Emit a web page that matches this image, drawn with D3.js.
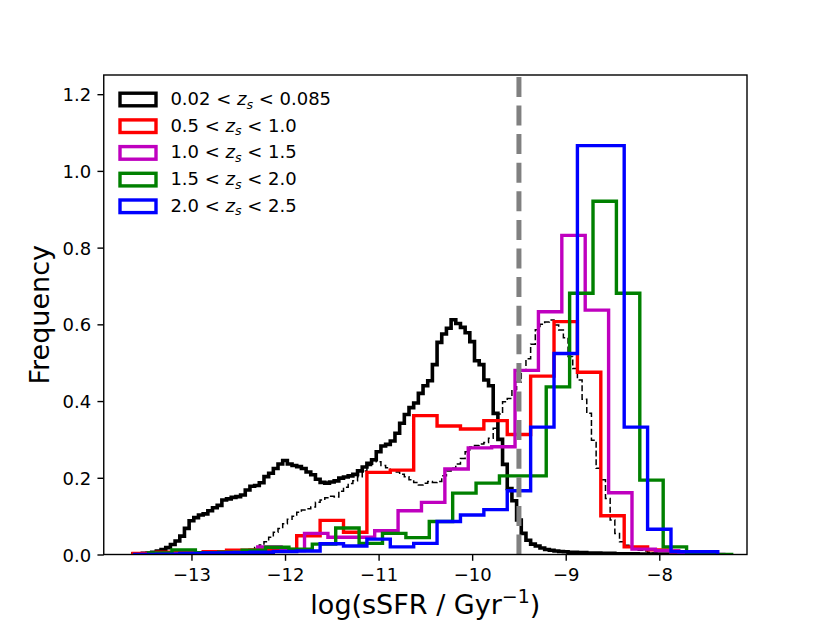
<!DOCTYPE html>
<html><head><meta charset="utf-8">
<script src="https://cdn.jsdelivr.net/npm/d3@7"></script>
<style>
body{margin:0;background:#fff}
text{font-family:"DejaVu Sans",sans-serif}
</style>
</head><body>
<svg id="c" width="830" height="623"></svg>
<script>
// ---------------- data ----------------
const xTicks = [-13, -12, -11, -10, -9, -8];
const yTicks = [0.0, 0.2, 0.4, 0.6, 0.8, 1.0, 1.2];
const xDomain = [-13.9375, -7.0625];
const yDomain = [0, 1.25];
const cutValue = -9.5;

// fine-binned local sample (0.02 < z < 0.085), bin width 0.05
const fineStart = -13.625;
const fineWidth = 0.05;
const localSolid = [
 0.002,0.002,0.003,0.004,0.006,0.009,0.013,0.018,0.026,0.035,
 0.048,0.068,0.088,0.096,0.103,0.106,0.114,0.122,0.128,0.142,
 0.145,0.149,0.151,0.155,0.168,0.178,0.180,0.187,0.203,0.212,
 0.224,0.236,0.245,0.236,0.232,0.229,0.224,0.215,0.208,0.196,
 0.188,0.186,0.189,0.192,0.199,0.202,0.205,0.209,0.218,0.228,
 0.238,0.247,0.268,0.283,0.287,0.296,0.316,0.342,0.365,0.383,
 0.395,0.420,0.440,0.453,0.495,0.553,0.575,0.590,0.612,0.602,
 0.592,0.578,0.555,0.505,0.495,0.455,0.440,0.368,0.300,0.235,
 0.172,0.140,0.090,0.055,0.037,0.027,0.022,0.017,0.013,0.011,
 0.009,0.008,0.007,0.006,0.006,0.005,0.005,0.004,0.004,0.004,
 0.003,0.003,0.003,0.002,0.002,0.002,0.002,0.002,0.001,0.001,
 0.001,0.001,0.001,0.001,0.001,0,0,0,0,0,
 0,0,0,0,0
];
const localDashed = [
 0,0,0,0,0,0,0,0,0,0,
 0,0,0,0,0,0,0,0,0,0,
 0,0,0.003,0.005,0.008,0.012,0.018,0.025,0.033,0.045,
 0.058,0.068,0.080,0.092,0.100,0.110,0.116,0.119,0.124,0.136,
 0.142,0.148,0.152,0.150,0.165,0.175,0.185,0.192,0.203,0.218,
 0.232,0.245,0.242,0.232,0.226,0.220,0.215,0.209,0.203,0.195,
 0.188,0.181,0.186,0.190,0.188,0.190,0.205,0.218,0.225,0.236,
 0.250,0.268,0.280,0.284,0.288,0.292,0.303,0.329,0.366,0.398,
 0.407,0.430,0.450,0.481,0.510,0.548,0.586,0.600,0.606,0.611,
 0.598,0.585,0.565,0.516,0.485,0.455,0.405,0.368,0.298,0.225,
 0.195,0.146,0.090,0.055,0.033,0.024,0.018,0.014,0.011,0.009,
 0.006,0.004,0.002,0,0,0,0,0,0,0,
 0,0,0,0,0
];

// coarse-binned high-z samples, bin width 0.25
const coarseWidth = 0.25;
const red = [0.003,0.006,0.005,0.007,0.011,0.012,0.013,0.049,0.089,0.058,
 0.214,0.220,0.362,0.335,0.327,0.349,0.313,0.465,0.607,0.475,
 0.101,0.020,0.012,0.004,0.0];
const magenta = [0.0,0.002,0.003,0.004,0.006,0.020,0.010,0.055,0.045,0.045,
 0.062,0.114,0.136,0.223,0.278,0.281,0.480,0.633,0.832,0.637,
 0.161,0.014,0.010,0.003,0.0];
const green = [0.004,0.012,0.005,0.006,0.011,0.019,0.014,0.027,0.069,0.029,
 0.055,0.044,0.086,0.160,0.186,0.205,0.205,0.437,0.681,0.921,
 0.681,0.194,0.020,0.0,0.0];
const blue = [0.0,0.001,0.003,0.004,0.005,0.006,0.008,0.009,0.028,0.022,
 0.040,0.020,0.029,0.086,0.103,0.117,0.166,0.332,0.524,1.066,
 1.066,0.332,0.066,0.007,0.007];
const coarseStarts = [-13.625, -13.5417, -13.4583, -13.625];
const coarseColors = ["#ff0000", "#bf00bf", "#008000", "#0000ff"];

const legendLow = ["0.02", "0.5", "1.0", "1.5", "2.0"];
const legendHigh = ["0.085", "1.0", "1.5", "2.0", "2.5"];
const legendColors = ["#000000", "#ff0000", "#bf00bf", "#008000", "#0000ff"];

// ---------------- layout ----------------
const L = 103.75, R = 747, T = 75, B = 554.5;
const svg = d3.select("#c");
const x = d3.scaleLinear().domain(xDomain).range([L, R]);
const y = d3.scaleLinear().domain(yDomain).range([B, T]);

svg.append("defs").append("clipPath").attr("id","clip")
  .append("rect").attr("x",L).attr("y",T).attr("width",R-L).attr("height",B-T);

const plot = svg.append("g").attr("clip-path","url(#clip)");

function stepPoints(vals, start, w){
  const pts = [[start, 0]];
  vals.forEach((v,i)=>{ pts.push([start+i*w, v]); pts.push([start+(i+1)*w, v]); });
  pts.push([start+vals.length*w, 0]);
  return pts;
}
const line = d3.line().x(d=>x(d[0])).y(d=>y(d[1]));

plot.append("path").attr("d", line(stepPoints(localSolid, fineStart, fineWidth)))
  .attr("fill","none").attr("stroke","#000").attr("stroke-width",3.6).attr("stroke-linejoin","miter");
plot.append("path").attr("d", line(stepPoints(localDashed, fineStart, fineWidth)))
  .attr("fill","none").attr("stroke","#000").attr("stroke-width",1.5).attr("stroke-dasharray","6,2.8");

[red, magenta, green, blue].forEach((vals,i)=>{
  plot.append("path").attr("d", line(stepPoints(vals, coarseStarts[i], coarseWidth)))
    .attr("fill","none").attr("stroke",coarseColors[i]).attr("stroke-width",3.4).attr("stroke-linejoin","miter");
});

plot.append("line").attr("x1",x(cutValue)).attr("x2",x(cutValue))
  .attr("y1",y(yDomain[0])).attr("y2",y(yDomain[1]))
  .attr("stroke","#808080").attr("stroke-width",5).attr("stroke-dasharray","20,8.6");

// axes
const xAxis = d3.axisBottom(x).tickValues(xTicks).tickSize(6.3).tickPadding(6.3).tickSizeOuter(0).tickFormat(d3.format("d"));
const yAxis = d3.axisLeft(y).tickValues(yTicks).tickSize(6.3).tickPadding(6.3).tickSizeOuter(0).tickFormat(d3.format(".1f"));
const gx = svg.append("g").attr("transform",`translate(0,${B})`).call(xAxis);
const gy = svg.append("g").attr("transform",`translate(${L},0)`).call(yAxis);
[gx,gy].forEach(g=>{
  g.select(".domain").remove();
  g.selectAll(".tick line").attr("stroke","#000").attr("stroke-width",1.4);
  g.selectAll(".tick text").attr("fill","#000").style("font-size","18px").style("font-family","DejaVu Sans");
});
gx.selectAll(".tick text").attr("dy",null).attr("y",6.3+6.3+13.7);
gy.selectAll(".tick text").attr("dy",null).attr("dominant-baseline",null).attr("y",6.5);

svg.append("rect").attr("x",L).attr("y",T).attr("width",R-L).attr("height",B-T)
  .attr("fill","none").attr("stroke","#000").attr("stroke-width",1.4);

// labels
const xl = svg.append("text").attr("x",(L+R)/2).attr("y",614).attr("text-anchor","middle")
  .style("font-size","27px");
xl.append("tspan").text("log(sSFR / Gyr");
xl.append("tspan").attr("dy",-11).style("font-size","19px").text("\u22121");
xl.append("tspan").attr("dy",11).text(")");

svg.append("text").attr("transform",`translate(49,${(T+B)/2}) rotate(-90)`)
  .attr("text-anchor","middle").style("font-size","27px").text("Frequency");

// legend
const leg = svg.append("g");
legendLow.forEach((lo,i)=>{
  const cy = 99.5 + i*26.7;
  leg.append("rect").attr("x",120).attr("y",cy-6.3).attr("width",36).attr("height",12.6)
    .attr("fill","none").attr("stroke",legendColors[i]).attr("stroke-width",3.4);
  const t = leg.append("text").attr("x",170.4).attr("y",cy+5.5).style("font-size","18px");
  t.append("tspan").text(lo + " < ");
  t.append("tspan").style("font-style","italic").text("z");
  t.append("tspan").style("font-style","italic").style("font-size","12.6px").attr("dy",3.5).text("s");
  t.append("tspan").attr("dy",-3.5).text(" < " + legendHigh[i]);
});
</script>
</body></html>
